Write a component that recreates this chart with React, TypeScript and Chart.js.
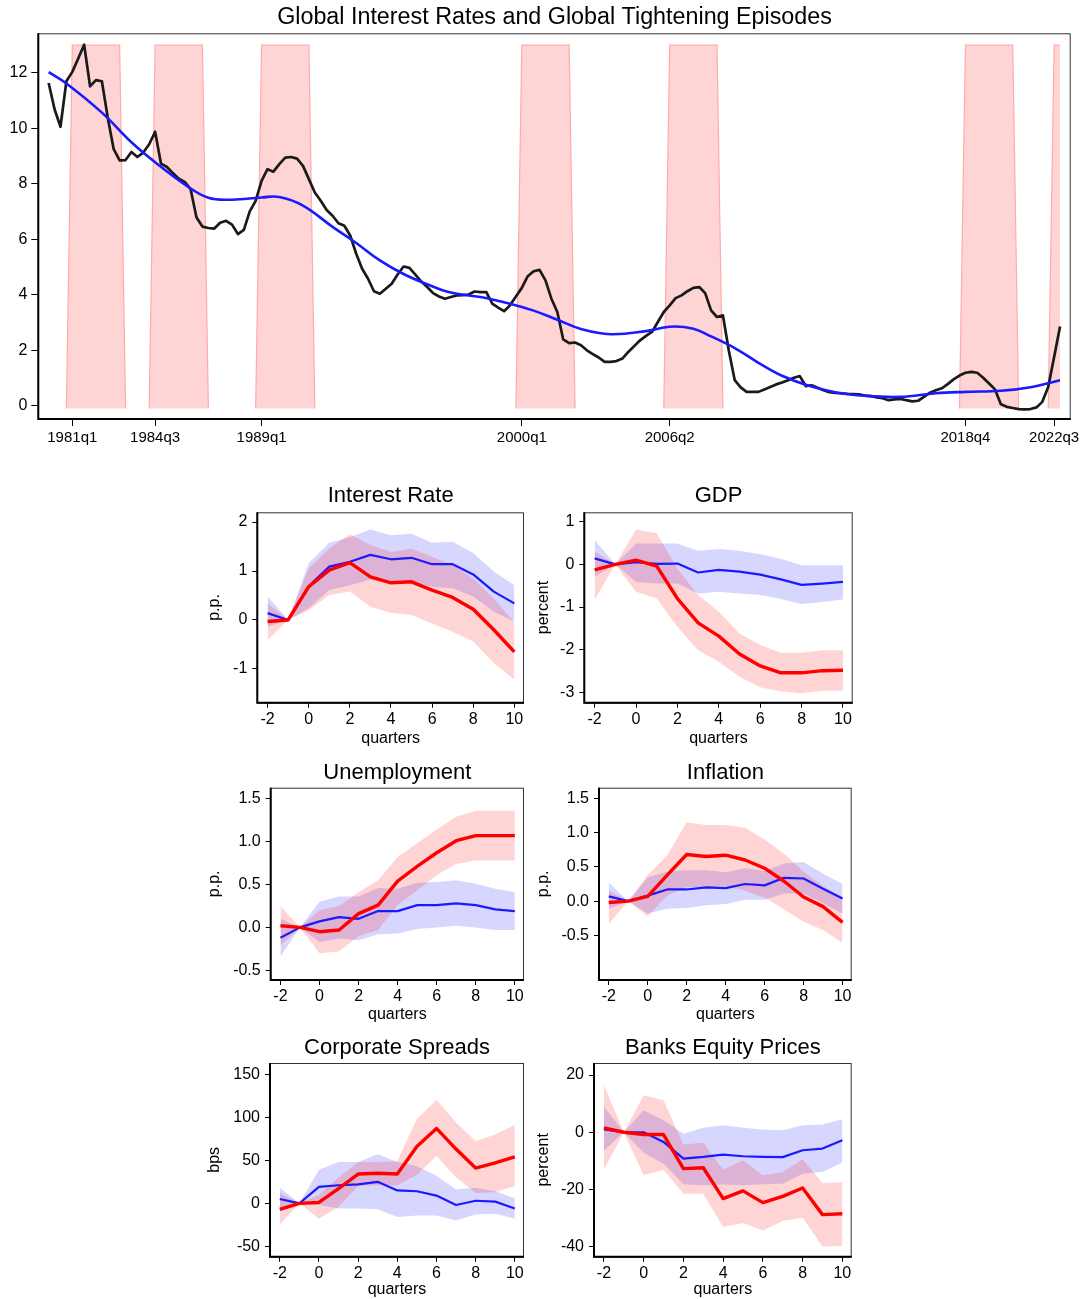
import React, { useEffect, useRef } from 'react';
import { Chart, registerables } from 'chart.js';

Chart.register(...registerables);

const FONT = "'Liberation Sans', Arial, Helvetica, sans-serif";
const BLUE = '#1a1aff';
const RED = '#ff0000';
const BLUE_BAND = 'rgba(0,0,255,0.16)';
const RED_BAND = 'rgba(255,0,0,0.17)';

// ---------------- Top chart data (quarterly, index 0 = 1980q1) ----------------
const topTitle = 'Global Interest Rates and Global Tightening Episodes';
const globalRate = [
  11.64, 10.69, 10.06, 11.7, 12.04, 12.52, 13.02, 11.52, 11.74, 11.7,
  10.38, 9.25, 8.85, 8.86, 9.15, 8.97, 9.13, 9.43, 9.88, 8.73,
  8.61, 8.39, 8.19, 8.07, 7.81, 6.79, 6.46, 6.41, 6.39, 6.6,
  6.67, 6.53, 6.19, 6.34, 7.01, 7.39, 8.11, 8.53, 8.44, 8.71,
  8.95, 8.97, 8.91, 8.65, 8.17, 7.69, 7.39, 7.06, 6.85, 6.58,
  6.49, 6.13, 5.48, 4.94, 4.58, 4.13, 4.04, 4.22, 4.4, 4.73,
  5.02, 4.97, 4.73, 4.48, 4.28, 4.06, 3.94, 3.86, 3.92, 3.98,
  3.99, 4.01, 4.12, 4.1, 4.1, 3.68, 3.54, 3.41, 3.62, 3.94,
  4.25, 4.67, 4.85, 4.9, 4.52, 3.86, 3.38, 2.39, 2.26, 2.28,
  2.18, 2.0, 1.86, 1.74, 1.58, 1.58, 1.61, 1.7, 1.94, 2.15,
  2.36, 2.52, 2.66, 3.02, 3.38, 3.62, 3.88, 3.98, 4.13, 4.25,
  4.28, 4.06, 3.44, 3.2, 3.26, 1.98, 0.92, 0.66, 0.5, 0.5,
  0.5, 0.59, 0.68, 0.77, 0.84, 0.92, 1.01, 1.07, 0.71, 0.74,
  0.65, 0.56, 0.49, 0.46, 0.45, 0.43, 0.42, 0.41, 0.37, 0.35,
  0.3, 0.27, 0.2, 0.23, 0.25, 0.2, 0.16, 0.18, 0.32, 0.47,
  0.56, 0.63, 0.78, 0.95, 1.09, 1.19, 1.22, 1.19, 1.01, 0.8,
  0.59, 0.05, -0.04, -0.08, -0.12, -0.13, -0.12, -0.06, 0.14, 0.68,
  1.76, 2.86,
];
// smooth trend, read at selected quarters
const trendQuarter = [0, 3, 9, 14, 18, 23, 27, 31, 36, 39, 43, 48, 52, 56, 60, 64, 68, 73, 78, 82, 86, 90, 95, 101, 105, 109, 112, 116, 120, 124, 128, 133, 138, 144, 150, 155, 161, 166, 171];
const trendValue = [12.03, 11.62, 10.57, 9.5, 8.78, 7.98, 7.5, 7.43, 7.51, 7.53, 7.22, 6.45, 5.87, 5.24, 4.75, 4.38, 4.08, 3.92, 3.68, 3.43, 3.1, 2.77, 2.58, 2.69, 2.85, 2.78, 2.5, 2.08, 1.55, 1.08, 0.76, 0.49, 0.36, 0.32, 0.45, 0.5, 0.54, 0.67, 0.92];
const episodeStart = [4, 18, 36, 80, 105, 155, 170];
const episodeEnd = [12, 26, 44, 88, 113, 163, 171];
const episodeTop = 13;
const episodeBase = -0.1;
const topTickQuarter = [4, 18, 36, 80, 105, 155, 170];
const topTickLabels = ['1981q1', '1984q3', '1989q1', '2000q1', '2006q2', '2018q4', '2022q3'];
const topYTicks = [0, 2, 4, 6, 8, 10, 12];

// ---------------- Impulse responses (horizon -2..10) ----------------
const horizons = [-2, -1, 0, 1, 2, 3, 4, 5, 6, 7, 8, 9, 10];
const horizonTicks = [-2, 0, 2, 4, 6, 8, 10];

const rateBlue = [0.14, 0, 0.69, 1.09, 1.19, 1.33, 1.24, 1.27, 1.14, 1.14, 0.93, 0.58, 0.34];
const rateBlueHi = [0.48, 0, 1.16, 1.58, 1.69, 1.85, 1.73, 1.76, 1.58, 1.6, 1.37, 0.99, 0.71];
const rateBlueLo = [-0.14, 0, 0.24, 0.61, 0.71, 0.82, 0.75, 0.78, 0.68, 0.65, 0.48, 0.17, -0.03];
const rateRed = [-0.03, 0, 0.68, 1.02, 1.17, 0.88, 0.76, 0.78, 0.61, 0.46, 0.22, -0.2, -0.65];
const rateRedHi = [0.34, 0, 1.05, 1.46, 1.75, 1.53, 1.39, 1.46, 1.29, 1.12, 0.85, 0.44, -0.05];
const rateRedLo = [-0.41, 0, 0.2, 0.51, 0.58, 0.27, 0.15, 0.1, -0.07, -0.24, -0.44, -0.88, -1.22];
const rateTicks = [-1, 0, 1, 2];

const gdpBlue = [0.14, 0, 0.05, 0.01, 0.02, -0.19, -0.13, -0.17, -0.24, -0.35, -0.48, -0.45, -0.41];
const gdpBlueHi = [0.57, 0, 0.49, 0.49, 0.49, 0.32, 0.36, 0.32, 0.24, 0.13, -0.02, -0.02, -0.02];
const gdpBlueLo = [-0.29, 0, -0.41, -0.45, -0.45, -0.68, -0.64, -0.68, -0.72, -0.81, -0.93, -0.88, -0.82];
const gdpRed = [-0.13, 0, 0.1, -0.04, -0.8, -1.37, -1.68, -2.1, -2.38, -2.54, -2.54, -2.49, -2.48];
const gdpRedHi = [0.3, 0, 0.82, 0.73, -0.1, -0.72, -1.11, -1.62, -1.89, -2.07, -2.07, -2.01, -2.01];
const gdpRedLo = [-0.82, 0, -0.64, -0.8, -1.46, -2.01, -2.28, -2.63, -2.88, -2.98, -3.02, -2.96, -2.96];
const gdpTicks = [-3, -2, -1, 0, 1];

const unBlue = [-0.12, 0, 0.07, 0.12, 0.1, 0.19, 0.19, 0.26, 0.26, 0.28, 0.26, 0.21, 0.19];
const unBlueHi = [0.1, 0, 0.3, 0.36, 0.36, 0.46, 0.45, 0.52, 0.53, 0.55, 0.51, 0.45, 0.41];
const unBlueLo = [-0.34, 0, -0.17, -0.13, -0.15, -0.08, -0.07, -0.02, 0, 0.02, 0, -0.03, -0.03];
const unRed = [0.02, 0, -0.05, -0.03, 0.16, 0.26, 0.54, 0.71, 0.87, 1.01, 1.07, 1.07, 1.07];
const unRedHi = [0.25, 0, 0.2, 0.25, 0.41, 0.55, 0.82, 0.98, 1.14, 1.29, 1.36, 1.36, 1.36];
const unRedLo = [-0.21, 0, -0.3, -0.28, -0.1, -0.03, 0.26, 0.43, 0.61, 0.74, 0.78, 0.78, 0.78];
const unTicks = [-0.5, 0, 0.5, 1, 1.5];

const infBlue = [0.07, 0, 0.08, 0.17, 0.17, 0.2, 0.19, 0.25, 0.23, 0.34, 0.33, 0.18, 0.04];
const infBlueHi = [0.27, 0, 0.35, 0.43, 0.45, 0.45, 0.42, 0.48, 0.44, 0.55, 0.57, 0.4, 0.25];
const infBlueLo = [-0.11, 0, -0.18, -0.11, -0.1, -0.06, -0.04, 0.02, 0.02, 0.11, 0.11, -0.03, -0.18];
const infRed = [-0.02, 0, 0.07, 0.38, 0.68, 0.65, 0.67, 0.6, 0.48, 0.29, 0.06, -0.08, -0.31];
const infRedHi = [0.15, 0, 0.38, 0.67, 1.15, 1.11, 1.11, 1.07, 0.9, 0.69, 0.43, 0.22, 0.05];
const infRedLo = [-0.33, 0, -0.22, 0.08, 0.21, 0.2, 0.22, 0.15, 0.05, -0.12, -0.3, -0.42, -0.61];
const infTicks = [-0.5, 0, 0.5, 1, 1.5];

const csBlue = [5, 0, 19, 21, 22, 25, 15, 14, 9, -2, 3, 2, -6];
const csBlueHi = [18, 0, 39, 48, 48, 57, 48, 43, 32, 16, 18, 14, 6];
const csBlueLo = [-8, 0, -2, -6, -6, -7, -16, -14, -14, -20, -13, -12, -18];
const csRed = [-7, 0, 1, 17, 34, 35, 34, 66, 87, 63, 41, 47, 54];
const csRedHi = [12, 0, 10, 30, 48, 48, 49, 98, 120, 94, 72, 80, 91];
const csRedLo = [-25, 0, -18, -4, 20, 21, 21, 33, 55, 30, 12, 13, 20];
const csTicks = [-50, 0, 50, 100, 150];

const bkBlue = [1, 0, 0, -3.4, -9.2, -8.6, -7.8, -8.4, -8.6, -8.7, -6.3, -5.7, -2.8];
const bkBlueHi = [8.9, 0, 7.7, 4.2, -0.5, 1.6, 2.4, 1.6, 1.0, 0.7, 2.4, 2.7, 4.5];
const bkBlueLo = [-6.5, 0, -7.2, -11, -18.2, -18.5, -18.3, -18.5, -18.2, -18, -14.5, -13.9, -10.6];
const bkRed = [1.5, 0, -0.8, -0.8, -12.7, -12.4, -23.2, -20.5, -24.6, -22.4, -19.5, -28.8, -28.5];
const bkRedHi = [16.4, 0, 12.9, 11.2, -4.3, -3.7, -13.1, -9.8, -15, -13.9, -9.4, -17.7, -17.4];
const bkRedLo = [-13.1, 0, -15, -13.1, -21.5, -21.5, -33.1, -31.7, -34.3, -31, -29.9, -39.9, -39.8];
const bkTicks = [-40, -20, 0, 20];

// ---------------- helpers ----------------
const framePlugin = {
  id: 'frame',
  afterDraw(chart: any) {
    const { ctx, chartArea } = chart;
    const { left, top, right, bottom } = chartArea;
    ctx.save();
    ctx.strokeStyle = '#333333';
    ctx.lineWidth = 1;
    ctx.strokeRect(left, top + 0.5, right - left - 0.5, bottom - top);
    ctx.strokeStyle = '#000000';
    ctx.lineWidth = 2;
    ctx.beginPath();
    ctx.moveTo(left, top);
    ctx.lineTo(left, bottom);
    ctx.lineTo(right, bottom);
    ctx.stroke();
    ctx.restore();
  },
};

const pairs = (xs: number[], ys: number[]) => xs.map((x, i) => ({ x, y: ys[i] }));

type Box = { L: number; T: number; R: number; B: number };
type Rect = { x: number; y: number; w: number; h: number };

function useChart(makeConfig: () => any) {
  const ref = useRef<HTMLCanvasElement | null>(null);
  useEffect(() => {
    if (!ref.current) return;
    const chart = new Chart(ref.current, makeConfig());
    return () => chart.destroy();
  }, []);
  return ref;
}

function TopChart() {
  const rect: Rect = { x: 0, y: 0, w: 1085, h: 460 };
  const box: Box = { L: 38.3, T: 33.3, R: 1070.7, B: 419 };
  const ref = useChart(() => {
    const quarters = globalRate.map((_, i) => i);
    const bands = quarters.map((q) =>
      episodeStart.some((s, k) => q >= s && q <= episodeEnd[k]) ? episodeTop : episodeBase
    );
    const titleSize = 23.3;
    const titleCenter = 17.3;
    const padTop = titleCenter - rect.y - (titleSize * 1.2) / 2;
    const padBottom = box.T - rect.y - padTop - titleSize * 1.2;
    return {
      type: 'line',
      data: {
        datasets: [
          {
            data: pairs(trendQuarter, trendValue),
            borderColor: BLUE,
            borderWidth: 2.6,
            pointRadius: 0,
            tension: 0.4,
            fill: false,
          },
          {
            data: pairs(quarters, globalRate),
            borderColor: '#1a1a1a',
            borderWidth: 2.7,
            pointRadius: 0,
            borderJoinStyle: 'round',
            fill: false,
          },
          {
            data: pairs(quarters, bands),
            borderColor: '#ffaaaa',
            borderWidth: 1.2,
            backgroundColor: RED_BAND,
            pointRadius: 0,
            fill: { value: episodeBase },
            segment: {
              borderColor: (ctx: any) =>
                ctx.p0.parsed.y < 0 && ctx.p1.parsed.y < 0 ? 'rgba(0,0,0,0)' : '#ffaaaa',
            },
          },
        ],
      },
      options: {
        responsive: false,
        animation: false,
        devicePixelRatio: 1,
        layout: { padding: { left: 0, top: 0, right: rect.x + rect.w - box.R, bottom: 0 } },
        plugins: {
          legend: { display: false },
          tooltip: { enabled: false },
          title: {
            display: true,
            text: topTitle,
            fullSize: false,
            color: '#000',
            font: { family: FONT, size: titleSize, weight: 'normal', lineHeight: 1.2 },
            padding: { top: padTop, bottom: padBottom },
          },
        },
        scales: {
          x: {
            type: 'linear',
            min: -1.75,
            max: 172.8,
            afterBuildTicks: (s: any) => {
              s.ticks = topTickQuarter.map((v) => ({ value: v }));
            },
            afterFit: (s: any) => {
              s.height = rect.y + rect.h - box.B;
            },
            border: { display: false },
            grid: { display: true, drawOnChartArea: false, drawTicks: true, tickLength: 7, tickColor: '#000', tickWidth: 1 },
            ticks: {
              autoSkip: false,
              maxRotation: 0,
              padding: 2.5,
              color: '#000',
              font: { family: FONT, size: 15 },
              callback: (_v: any, i: number) => topTickLabels[i],
            },
          },
          y: {
            type: 'linear',
            min: -0.478,
            max: 13.43,
            afterBuildTicks: (s: any) => {
              s.ticks = topYTicks.map((v) => ({ value: v }));
            },
            afterFit: (s: any) => {
              s.width = box.L - rect.x;
            },
            border: { display: false },
            grid: { display: true, drawOnChartArea: false, drawTicks: true, tickLength: 7, tickColor: '#000', tickWidth: 1 },
            ticks: {
              padding: 4,
              color: '#000',
              font: { family: FONT, size: 16 },
              callback: (v: any) => String(v),
            },
          },
        },
      },
      plugins: [framePlugin],
    };
  });
  return (
    <canvas
      ref={ref}
      width={rect.w}
      height={rect.h}
      style={{ position: 'absolute', left: rect.x, top: rect.y, width: rect.w, height: rect.h }}
    />
  );
}

type PanelSpec = {
  title: string;
  yTitle: string;
  blue: number[];
  blueHi: number[];
  blueLo: number[];
  red: number[];
  redHi: number[];
  redLo: number[];
  yTicks: number[];
  decimals: number;
  yMin: number;
  yMax: number;
  rect: Rect;
  box: Box;
  titleCenter: number;
  xTitleCenter: number;
  yTitleCenter: number;
};

function Panel({ spec }: { spec: PanelSpec }) {
  const { rect, box } = spec;
  const ref = useChart(() => {
    const titleSize = 22;
    const tlh = titleSize * 1.2;
    const padTop = spec.titleCenter - rect.y - tlh / 2;
    const padBottom = box.T - rect.y - padTop - tlh;
    const axFont = 16;
    const alh = axFont * 1.2;
    const grid = { display: true, drawOnChartArea: false, drawTicks: true, tickLength: 5, tickColor: '#000', tickWidth: 1 };
    return {
      type: 'line',
      data: {
        datasets: [
          { data: pairs(horizons, spec.red), borderColor: RED, borderWidth: 3.4, pointRadius: 0, fill: false, borderJoinStyle: 'round' },
          { data: pairs(horizons, spec.blue), borderColor: BLUE, borderWidth: 2.2, pointRadius: 0, fill: false, borderJoinStyle: 'round' },
          { data: pairs(horizons, spec.redHi), borderColor: 'rgba(0,0,0,0)', borderWidth: 0, backgroundColor: RED_BAND, pointRadius: 0, fill: '+1' },
          { data: pairs(horizons, spec.redLo), borderColor: 'rgba(0,0,0,0)', borderWidth: 0, pointRadius: 0, fill: false },
          { data: pairs(horizons, spec.blueHi), borderColor: 'rgba(0,0,0,0)', borderWidth: 0, backgroundColor: BLUE_BAND, pointRadius: 0, fill: '+1' },
          { data: pairs(horizons, spec.blueLo), borderColor: 'rgba(0,0,0,0)', borderWidth: 0, pointRadius: 0, fill: false },
        ],
      },
      options: {
        responsive: false,
        animation: false,
        devicePixelRatio: 1,
        layout: { padding: { left: 0, top: 0, right: rect.x + rect.w - box.R, bottom: 0 } },
        plugins: {
          legend: { display: false },
          tooltip: { enabled: false },
          title: {
            display: true,
            text: spec.title,
            fullSize: false,
            color: '#000',
            font: { family: FONT, size: titleSize, weight: 'normal', lineHeight: 1.2 },
            padding: { top: padTop, bottom: padBottom },
          },
        },
        scales: {
          x: {
            type: 'linear',
            min: -2.5,
            max: 10.47,
            afterBuildTicks: (s: any) => {
              s.ticks = horizonTicks.map((v) => ({ value: v }));
            },
            afterFit: (s: any) => {
              s.height = rect.y + rect.h - box.B;
            },
            border: { display: false },
            grid,
            ticks: {
              autoSkip: false,
              maxRotation: 0,
              padding: 2,
              color: '#000',
              font: { family: FONT, size: axFont },
              callback: (v: any) => String(v),
            },
            title: {
              display: true,
              text: 'quarters',
              color: '#000',
              font: { family: FONT, size: axFont, lineHeight: 1.2 },
              padding: { top: 0, bottom: rect.y + rect.h - spec.xTitleCenter - alh / 2 },
            },
          },
          y: {
            type: 'linear',
            min: spec.yMin,
            max: spec.yMax,
            afterBuildTicks: (s: any) => {
              s.ticks = spec.yTicks.map((v) => ({ value: v }));
            },
            afterFit: (s: any) => {
              s.width = box.L - rect.x;
            },
            border: { display: false },
            grid,
            ticks: {
              padding: 5,
              color: '#000',
              font: { family: FONT, size: axFont },
              callback: (v: any) => Number(v).toFixed(spec.decimals),
            },
            title: {
              display: true,
              text: spec.yTitle,
              color: '#000',
              font: { family: FONT, size: axFont, lineHeight: 1.2 },
              padding: { top: spec.yTitleCenter - rect.x - alh / 2, bottom: 0 },
            },
          },
        },
      },
      plugins: [framePlugin],
    };
  });
  return (
    <canvas
      ref={ref}
      width={rect.w}
      height={rect.h}
      style={{ position: 'absolute', left: rect.x, top: rect.y, width: rect.w, height: rect.h }}
    />
  );
}

const panels: PanelSpec[] = [
  {
    title: 'Interest Rate', yTitle: 'p.p.',
    blue: rateBlue, blueHi: rateBlueHi, blueLo: rateBlueLo, red: rateRed, redHi: rateRedHi, redLo: rateRedLo,
    yTicks: rateTicks, decimals: 0, yMin: -1.69, yMax: 2.2,
    rect: { x: 190, y: 470, w: 340, h: 280 }, box: { L: 257.3, T: 512.3, R: 524, B: 702.7 },
    titleCenter: 496, xTitleCenter: 738.5, yTitleCenter: 215,
  },
  {
    title: 'GDP', yTitle: 'percent',
    blue: gdpBlue, blueHi: gdpBlueHi, blueLo: gdpBlueLo, red: gdpRed, redHi: gdpRedHi, redLo: gdpRedLo,
    yTicks: gdpTicks, decimals: 0, yMin: -3.24, yMax: 1.22,
    rect: { x: 530, y: 470, w: 350, h: 280 }, box: { L: 584.3, T: 512.3, R: 852.7, B: 702.7 },
    titleCenter: 496, xTitleCenter: 738.5, yTitleCenter: 544,
  },
  {
    title: 'Unemployment', yTitle: 'p.p.',
    blue: unBlue, blueHi: unBlueHi, blueLo: unBlueLo, red: unRed, redHi: unRedHi, redLo: unRedLo,
    yTicks: unTicks, decimals: 1, yMin: -0.613, yMax: 1.628,
    rect: { x: 190, y: 750, w: 340, h: 278 }, box: { L: 270.7, T: 787.7, R: 524, B: 980 },
    titleCenter: 772.5, xTitleCenter: 1014.5, yTitleCenter: 215,
  },
  {
    title: 'Inflation', yTitle: 'p.p.',
    blue: infBlue, blueHi: infBlueHi, blueLo: infBlueLo, red: infRed, redHi: infRedHi, redLo: infRedLo,
    yTicks: infTicks, decimals: 1, yMin: -1.15, yMax: 1.654,
    rect: { x: 530, y: 750, w: 350, h: 278 }, box: { L: 599, T: 787.7, R: 851.7, B: 980 },
    titleCenter: 772.5, xTitleCenter: 1014.5, yTitleCenter: 543.2,
  },
  {
    title: 'Corporate Spreads', yTitle: 'bps',
    blue: csBlue, blueHi: csBlueHi, blueLo: csBlueLo, red: csRed, redHi: csRedHi, redLo: csRedLo,
    yTicks: csTicks, decimals: 0, yMin: -62, yMax: 163,
    rect: { x: 190, y: 1028, w: 340, h: 271 }, box: { L: 270, T: 1063, R: 524, B: 1256.7 },
    titleCenter: 1048.3, xTitleCenter: 1290, yTitleCenter: 215,
  },
  {
    title: 'Banks Equity Prices', yTitle: 'percent',
    blue: bkBlue, blueHi: bkBlueHi, blueLo: bkBlueLo, red: bkRed, redHi: bkRedHi, redLo: bkRedLo,
    yTicks: bkTicks, decimals: 0, yMin: -43.5, yMax: 24.2,
    rect: { x: 530, y: 1028, w: 350, h: 271 }, box: { L: 594, T: 1063, R: 851.7, B: 1256.7 },
    titleCenter: 1048.3, xTitleCenter: 1290, yTitleCenter: 544,
  },
];

export default function App() {
  return (
    <div style={{ position: 'absolute', left: 0, top: 0, width: 1085, height: 1299, background: '#fff', overflow: 'hidden' }}>
      <TopChart />
      {panels.map((p) => (
        <Panel key={p.title} spec={p} />
      ))}
    </div>
  );
}
